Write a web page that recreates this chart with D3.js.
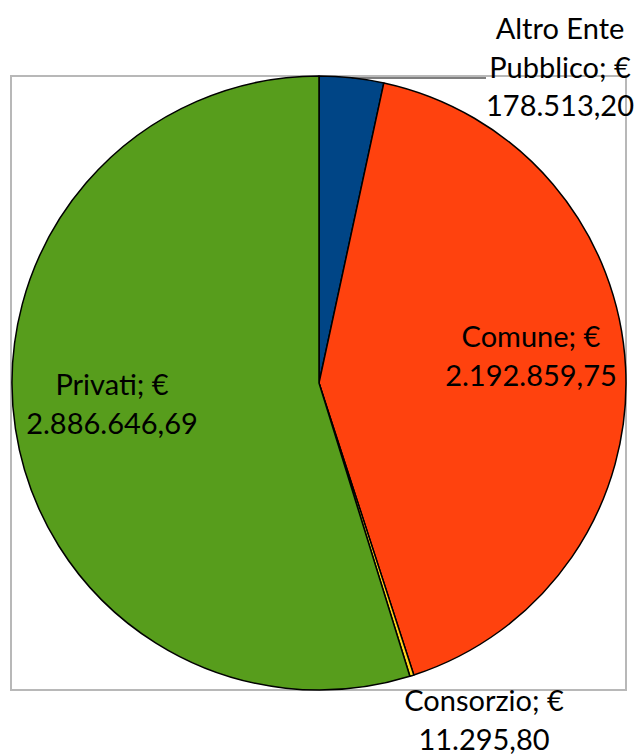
<!DOCTYPE html>
<html><head><meta charset="utf-8">
<script src="https://cdn.jsdelivr.net/npm/d3@7"></script>
<style>body{margin:0;background:#fff}svg{display:block}text{font-family:Lato,"Open Sans",sans-serif;font-size:29px;fill:#000}</style>
</head><body>
<script>
const categories = ["Altro Ente Pubblico", "Comune", "Consorzio", "Privati"];
const values = [178513.20, 2192859.75, 11295.80, 2886646.69];
const valueLabels = ["178.513,20", "2.192.859,75", "11.295,80", "2.886.646,69"];
const colors = ["#004586", "#ff420e", "#ffd320", "#579d1c"];

const W = 634, H = 754;
const svg = d3.select("body").append("svg").attr("width", W).attr("height", H);

svg.append("rect").attr("x", 11).attr("y", 76).attr("width", 615).attr("height", 614)
  .attr("fill", "none").attr("stroke", "#b8b8b8").attr("stroke-width", 2);

const cx = 319, cy = 383, r = 307;
const pie = d3.pie().sort(null).value(d => d)(values);
const arc = d3.arc().innerRadius(0).outerRadius(r);
const g = svg.append("g").attr("transform", `translate(${cx},${cy})`);
g.selectAll("path").data(pie).join("path")
  .attr("d", arc).attr("fill", (d, i) => colors[i])
  .attr("stroke", "#000").attr("stroke-width", 1.5).attr("stroke-linejoin", "round");

const labelLines = [
  ["Altro Ente", "Pubblico; €", valueLabels[0]],
  ["Comune; €", valueLabels[1]],
  ["Consorzio; €", valueLabels[2]],
  ["Privati; €", valueLabels[3]]
];
const labelPos = [[560, 39], [531, 347], [484, 711], [112, 395]];
const lineGap = 38.5;

const a0 = (pie[0].startAngle + pie[0].endAngle) / 2;
const px = cx + r * Math.sin(a0);
svg.append("line").attr("x1", px).attr("y1", 78).attr("x2", 486).attr("y2", 78)
  .attr("stroke", "#000").attr("stroke-width", 1.2);

labelLines.forEach((lines, i) => {
  const t = svg.append("text").attr("text-anchor", "middle");
  lines.forEach((s, j) => {
    t.append("tspan").attr("x", labelPos[i][0]).attr("y", labelPos[i][1] + j * lineGap).text(s);
  });
});
</script>
</body></html>
